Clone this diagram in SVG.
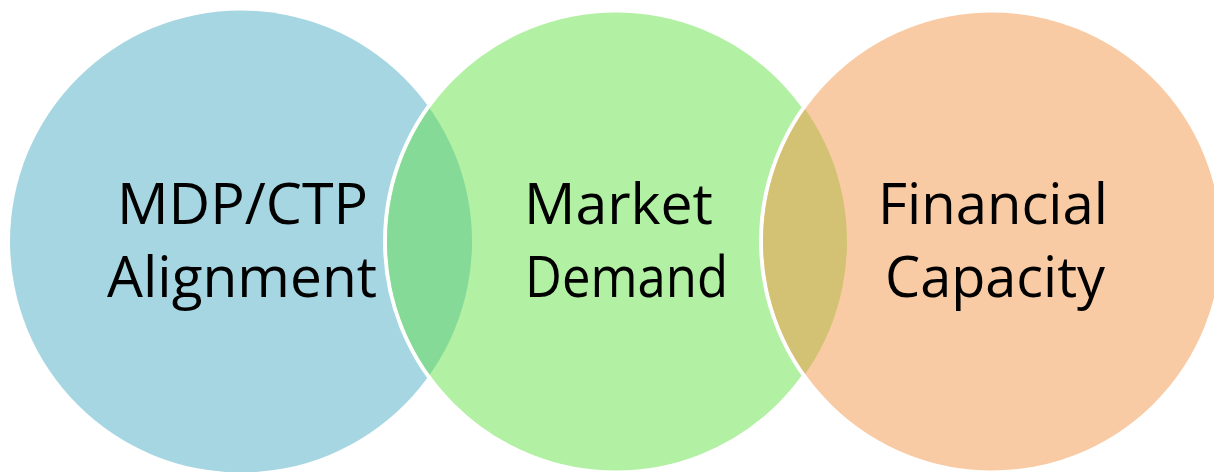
<svg xmlns="http://www.w3.org/2000/svg" width="1214" height="472" viewBox="0 0 1214 472">
<style>
.lbl{font-family:"Open Sans","Liberation Sans",sans-serif;font-size:57px;fill:#000;}
.ring{stroke:#fff;stroke-width:4;}
</style>
<defs>
<clipPath id="clipL"><circle cx="241" cy="241.5" r="231"/></clipPath>
<clipPath id="clipM"><circle cx="616" cy="241.5" r="231"/></clipPath>
</defs>
<rect width="1214" height="472" fill="#fff"/>
<g id="node-mdp">
<circle cx="241" cy="241.5" r="231" fill="#A6D6E2"/>
</g>
<g id="node-market">
<circle class="ring" cx="616" cy="241.5" r="231" fill="#B2F0A3"/>
<circle cx="616" cy="241.5" r="229" fill="#84DA96" clip-path="url(#clipL)"/>
</g>
<g id="node-financial">
<circle class="ring" cx="992" cy="241.5" r="231" fill="#F9CBA4"/>
<circle cx="992" cy="241.5" r="229" fill="#D4C274" clip-path="url(#clipM)"/>
</g>
<g id="labels">
<text class="lbl" x="117" y="224" textLength="251" lengthAdjust="spacingAndGlyphs">MDP/CTP</text>
<text class="lbl" x="107" y="297" textLength="270" lengthAdjust="spacingAndGlyphs">Alignment</text>
<text class="lbl" x="524" y="224" textLength="189" lengthAdjust="spacingAndGlyphs">Market</text>
<text class="lbl" x="525" y="297" textLength="203" lengthAdjust="spacingAndGlyphs">Demand</text>
<text class="lbl" x="878" y="224" textLength="230" lengthAdjust="spacingAndGlyphs">Financial</text>
<text class="lbl" x="885" y="297" textLength="220" lengthAdjust="spacingAndGlyphs">Capacity</text>
</g>
<g id="connectors"/>
</svg>
